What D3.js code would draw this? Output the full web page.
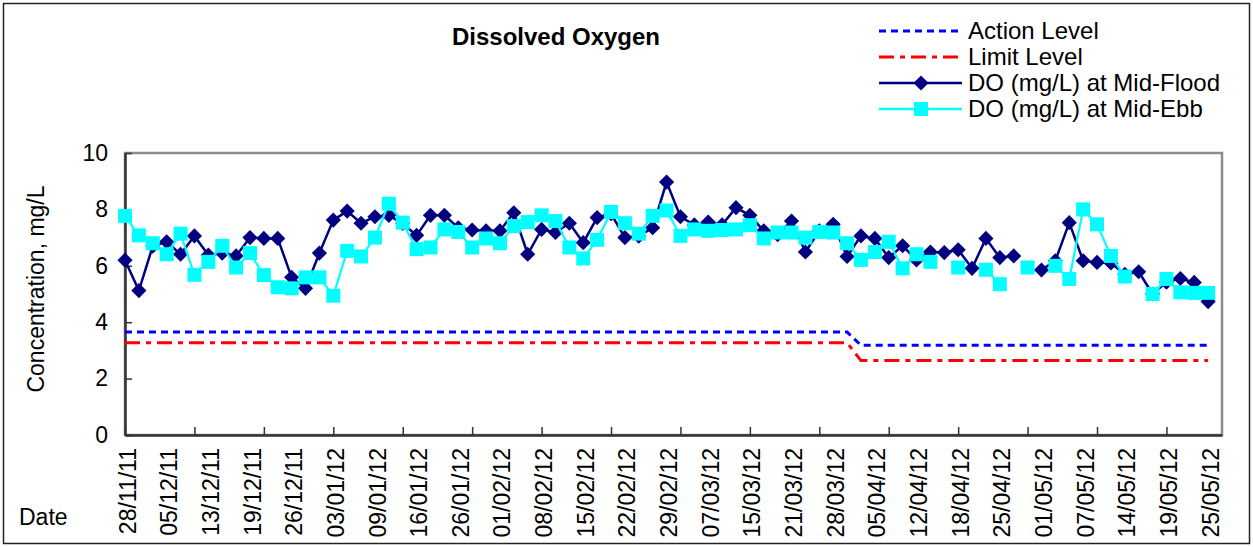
<!DOCTYPE html>
<html>
<head>
<meta charset="utf-8">
<script src="https://cdn.jsdelivr.net/npm/d3@7"></script>
<style>
  body { margin: 0; background: #fff; }
  text { font-family: "Liberation Sans", Arial, sans-serif; fill: #000; }
</style>
</head>
<body>
<svg id="chart"></svg>
<script>
// sampling dates (category axis)
const dates = [
  '28/11/11', '30/11/11', '02/12/11', '05/12/11', '07/12/11', '09/12/11', '13/12/11', '14/12/11',
  '16/12/11', '19/12/11', '21/12/11', '23/12/11', '26/12/11', '28/12/11', '30/12/11', '03/01/12',
  '05/01/12', '07/01/12', '09/01/12', '11/01/12', '13/01/12', '16/01/12', '18/01/12', '20/01/12',
  '26/01/12', '28/01/12', '30/01/12', '01/02/12', '03/02/12', '06/02/12', '08/02/12', '10/02/12',
  '13/02/12', '15/02/12', '17/02/12', '20/02/12', '22/02/12', '24/02/12', '27/02/12', '29/02/12',
  '02/03/12', '05/03/12', '07/03/12', '09/03/12', '12/03/12', '15/03/12', '17/03/12', '19/03/12',
  '21/03/12', '23/03/12', '26/03/12', '28/03/12', '30/03/12', '02/04/12', '05/04/12', '07/04/12',
  '10/04/12', '12/04/12', '14/04/12', '16/04/12', '18/04/12', '20/04/12', '23/04/12', '25/04/12',
  '27/04/12', '29/04/12', '01/05/12', '03/05/12', '05/05/12', '07/05/12', '09/05/12', '11/05/12',
  '14/05/12', '16/05/12', '17/05/12', '19/05/12', '21/05/12', '23/05/12', '25/05/12', '28/05/12',
];

const actionLevel = [
  3.65, 3.65, 3.65, 3.65, 3.65, 3.65, 3.65, 3.65, 3.65, 3.65, 3.65, 3.65, 3.65, 3.65, 3.65, 3.65,
  3.65, 3.65, 3.65, 3.65, 3.65, 3.65, 3.65, 3.65, 3.65, 3.65, 3.65, 3.65, 3.65, 3.65, 3.65, 3.65,
  3.65, 3.65, 3.65, 3.65, 3.65, 3.65, 3.65, 3.65, 3.65, 3.65, 3.65, 3.65, 3.65, 3.65, 3.65, 3.65,
  3.65, 3.65, 3.65, 3.65, 3.65, 3.18, 3.18, 3.18, 3.18, 3.18, 3.18, 3.18, 3.18, 3.18, 3.18, 3.18,
  3.18, 3.18, 3.18, 3.18, 3.18, 3.18, 3.18, 3.18, 3.18, 3.18, 3.18, 3.18, 3.18, 3.18, 3.18, null,
];

const limitLevel = [
  3.27, 3.27, 3.27, 3.27, 3.27, 3.27, 3.27, 3.27, 3.27, 3.27, 3.27, 3.27, 3.27, 3.27, 3.27, 3.27,
  3.27, 3.27, 3.27, 3.27, 3.27, 3.27, 3.27, 3.27, 3.27, 3.27, 3.27, 3.27, 3.27, 3.27, 3.27, 3.27,
  3.27, 3.27, 3.27, 3.27, 3.27, 3.27, 3.27, 3.27, 3.27, 3.27, 3.27, 3.27, 3.27, 3.27, 3.27, 3.27,
  3.27, 3.27, 3.27, 3.27, 3.27, 2.64, 2.64, 2.64, 2.64, 2.64, 2.64, 2.64, 2.64, 2.64, 2.64, 2.64,
  2.64, 2.64, 2.64, 2.64, 2.64, 2.64, 2.64, 2.64, 2.64, 2.64, 2.64, 2.64, 2.64, 2.64, 2.64, null,
];

const doMidFlood = [
  6.20, 5.12, 6.70, 6.85, 6.41, 7.06, 6.38, 6.45, 6.35, 7.00, 6.97, 6.97, 5.59, 5.20, 6.45, 7.62,
  7.94, 7.51, 7.74, 7.79, 7.50, 7.08, 7.79, 7.79, 7.35, 7.27, 7.24, 7.24, 7.88, 6.41, 7.29, 7.18,
  7.51, 6.82, 7.71, 7.85, 7.00, 7.05, 7.35, 8.97, 7.74, 7.45, 7.55, 7.45, 8.06, 7.79, 7.24, 7.10,
  7.59, 6.49, 7.24, 7.47, 6.33, 7.06, 6.97, 6.29, 6.71, 6.21, 6.49, 6.47, 6.57, 5.91, 6.97, 6.29,
  6.35, null, 5.85, 6.18, 7.53, 6.18, 6.12, 6.10, 5.70, 5.79, 5.00, 5.42, 5.55, 5.41, 4.73, null,
];

const doMidEbb = [
  7.77, 7.08, 6.80, 6.41, 7.14, 5.68, 6.14, 6.71, 5.94, 6.45, 5.67, 5.24, 5.20, 5.59, 5.59, 4.94,
  6.53, 6.33, 7.00, 8.20, 7.53, 6.59, 6.65, 7.29, 7.20, 6.65, 6.97, 6.80, 7.41, 7.55, 7.79, 7.59,
  6.65, 6.26, 6.92, 7.91, 7.51, 7.14, 7.77, 7.96, 7.06, 7.29, 7.24, 7.27, 7.29, 7.44, 6.97, 7.18,
  7.18, 7.00, 7.20, 7.18, 6.80, 6.21, 6.49, 6.85, 5.91, 6.41, 6.14, null, 5.94, null, 5.86, 5.35,
  null, 5.94, null, 6.00, 5.53, 8.00, 7.47, 6.35, 5.62, null, 5.00, 5.53, 5.06, 5.04, 5.04, null,
];

const yTicks = [0, 2, 4, 6, 8, 10];
const xTickDates = dates.filter((d, i) => i % 5 === 0);
const xLabelDates = dates.filter((d, i) => i % 3 === 0);

const width = 1253;
const height = 547;
const plot = { left: 125, right: 1222, top: 153, bottom: 435 };

const svg = d3.select('#chart').attr('width', width).attr('height', height);

svg.append('rect')
  .attr('x', 3.5).attr('y', 3.5)
  .attr('width', width - 7).attr('height', height - 7)
  .attr('fill', '#fff').attr('stroke', '#222').attr('stroke-width', 1.5);

const x = d3.scalePoint().domain(dates).range([plot.left, plot.right]);
const y = d3.scaleLinear().domain([0, 10]).range([plot.bottom, plot.top]);

// plot area frame
svg.append('rect')
  .attr('x', plot.left).attr('y', plot.top)
  .attr('width', plot.right - plot.left).attr('height', plot.bottom - plot.top)
  .attr('fill', 'none').attr('stroke', '#8c8c8c').attr('stroke-width', 2.5);

const yAxis = svg.append('g')
  .attr('transform', `translate(${plot.left},0)`)
  .call(d3.axisLeft(y).tickValues(yTicks).tickSizeInner(-7).tickSizeOuter(0).tickPadding(17));
yAxis.select('.domain').attr('stroke', '#333').attr('stroke-width', 2.5);
yAxis.selectAll('.tick line').attr('stroke', '#333').attr('stroke-width', 1.5);
yAxis.selectAll('text').style('font-size', '23px').attr('fill', '#000');

const xAxis = svg.append('g')
  .attr('transform', `translate(0,${plot.bottom})`)
  .call(d3.axisBottom(x).tickValues(xTickDates).tickSizeInner(-8).tickSizeOuter(0).tickFormat(''));
xAxis.select('.domain').attr('stroke', '#333').attr('stroke-width', 2.5);
xAxis.selectAll('.tick line').attr('stroke', '#333').attr('stroke-width', 1.5);

const xLabels = svg.append('g')
  .attr('transform', `translate(0,${plot.bottom})`)
  .call(d3.axisBottom(x).tickValues(xLabelDates).tickSize(0));
xLabels.select('.domain').remove();
xLabels.selectAll('text')
  .attr('transform', 'rotate(-90)')
  .attr('x', -13)
  .attr('y', 2)
  .attr('dy', '0.35em')
  .style('text-anchor', 'end')
  .style('font-size', '23px')
  .attr('fill', '#000');

const lineFor = (values) => d3.line()
  .defined((v) => v !== null)
  .x((v, i) => x(dates[i]))
  .y((v) => y(v))(values);

svg.append('path')
  .attr('d', lineFor(actionLevel))
  .attr('fill', 'none').attr('stroke', '#0000ff').attr('stroke-width', 3)
  .attr('stroke-dasharray', '7,5');

svg.append('path')
  .attr('d', lineFor(limitLevel))
  .attr('fill', 'none').attr('stroke', '#ff0000').attr('stroke-width', 3)
  .attr('stroke-dasharray', '15,6,5,6');

const points = (values) => values
  .map((v, i) => ({ date: dates[i], value: v }))
  .filter((d) => d.value !== null);

svg.append('path')
  .attr('d', lineFor(doMidFlood))
  .attr('fill', 'none').attr('stroke', '#000080').attr('stroke-width', 2.5);

svg.append('g')
  .selectAll('path')
  .data(points(doMidFlood))
  .join('path')
  .attr('d', d3.symbol(d3.symbolSquare, 115))
  .attr('transform', (d) => `translate(${x(d.date)},${y(d.value)}) rotate(45)`)
  .attr('fill', '#000080');

svg.append('path')
  .attr('d', lineFor(doMidEbb))
  .attr('fill', 'none').attr('stroke', '#00ffff').attr('stroke-width', 2.2);

svg.append('g')
  .selectAll('path')
  .data(points(doMidEbb))
  .join('path')
  .attr('d', d3.symbol(d3.symbolSquare, 196))
  .attr('transform', (d) => `translate(${x(d.date)},${y(d.value)})`)
  .attr('fill', '#00ffff');

// title and axis titles
svg.append('text')
  .attr('x', 556).attr('y', 37).attr('dy', '0.35em')
  .attr('text-anchor', 'middle')
  .style('font-size', '24px').style('font-weight', 'bold')
  .text('Dissolved Oxygen');

svg.append('text')
  .attr('transform', 'translate(36,289) rotate(-90)')
  .attr('dy', '0.35em')
  .attr('text-anchor', 'middle')
  .style('font-size', '23px')
  .text('Concentration, mg/L');

svg.append('text')
  .attr('x', 19).attr('y', 517).attr('dy', '0.35em')
  .style('font-size', '23px')
  .text('Date');

// legend
const legendItems = [
  { name: 'Action Level', color: '#0000ff', dash: '7,5', marker: null },
  { name: 'Limit Level', color: '#ff0000', dash: '15,6,5,6', marker: null },
  { name: 'DO (mg/L) at Mid-Flood', color: '#000080', dash: null, marker: 'diamond' },
  { name: 'DO (mg/L) at Mid-Ebb', color: '#00ffff', dash: null, marker: 'square' },
];

const legend = svg.append('g').attr('transform', 'translate(879,31)');
const rows = legend.selectAll('g')
  .data(legendItems)
  .join('g')
  .attr('transform', (d, i) => `translate(0,${i * 26})`);

rows.append('line')
  .attr('x1', 0).attr('x2', 83)
  .attr('stroke', (d) => d.color)
  .attr('stroke-width', (d) => (d.marker ? 2.5 : 3))
  .attr('stroke-dasharray', (d) => d.dash);

rows.filter((d) => d.marker === 'diamond')
  .append('path')
  .attr('d', d3.symbol(d3.symbolSquare, 115))
  .attr('transform', 'translate(42,0) rotate(45)')
  .attr('fill', (d) => d.color);

rows.filter((d) => d.marker === 'square')
  .append('path')
  .attr('d', d3.symbol(d3.symbolSquare, 196))
  .attr('transform', 'translate(42,0)')
  .attr('fill', (d) => d.color);

rows.append('text')
  .attr('x', 89).attr('dy', '0.35em')
  .style('font-size', '24px')
  .text((d) => d.name);
</script>
</body>
</html>
